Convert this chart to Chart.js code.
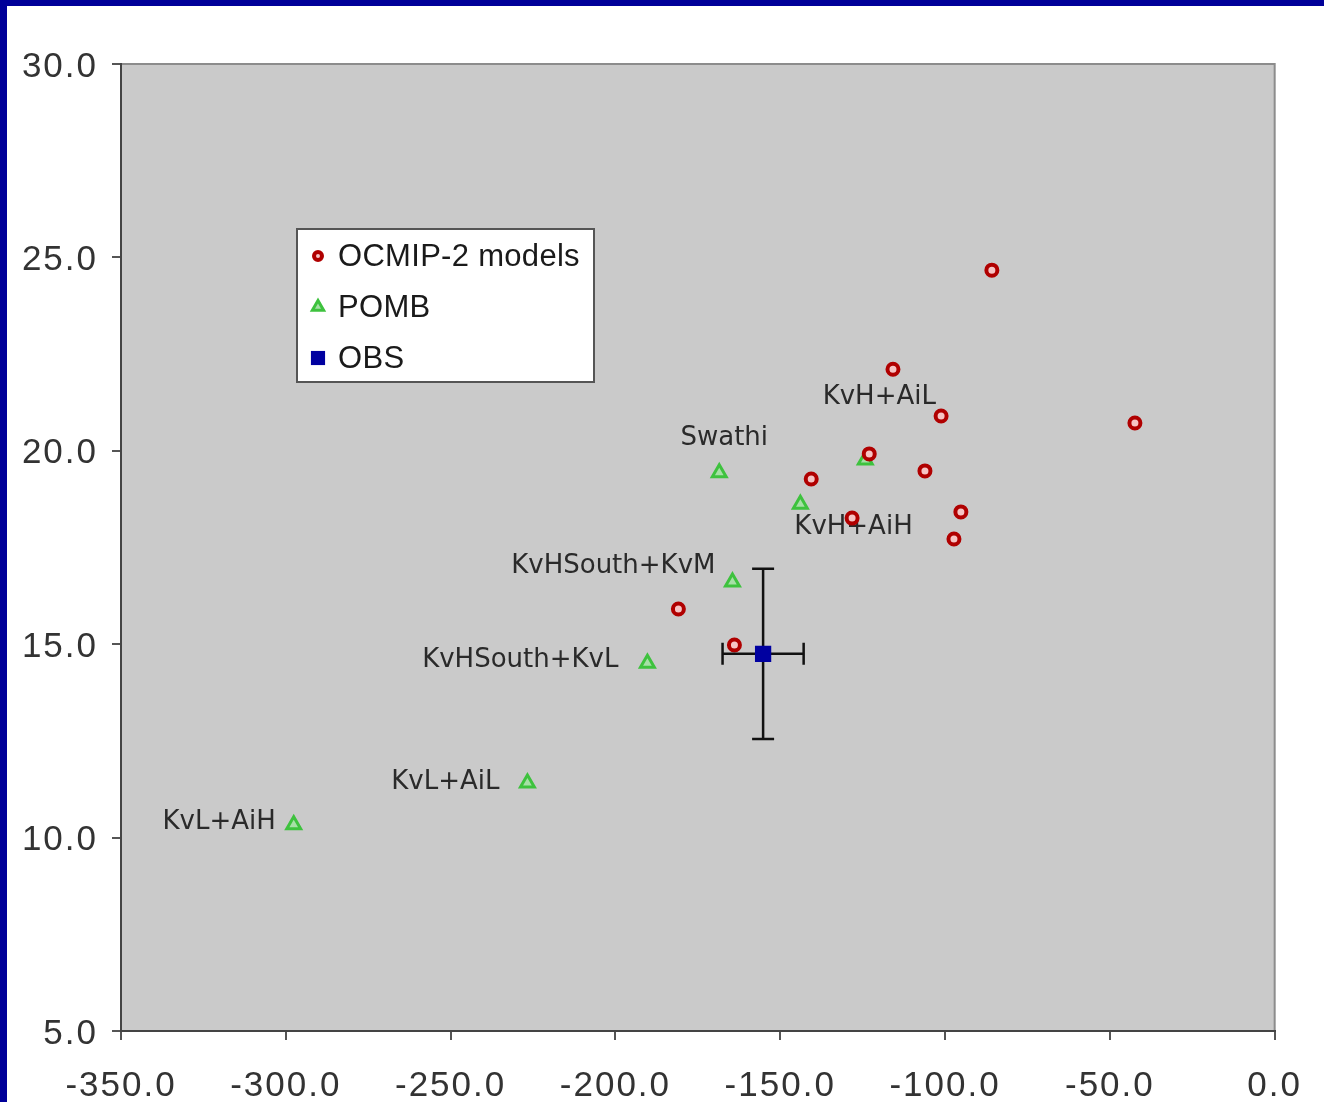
<!DOCTYPE html>
<html><head><meta charset="utf-8">
<script src="https://cdn.jsdelivr.net/npm/chart.js@4.4.1/dist/chart.umd.min.js"></script>
<style>
html,body{margin:0;padding:0;background:#000099;width:1324px;height:1102px;overflow:hidden;}
#frame{position:absolute;left:7px;top:6px;width:1317px;height:1096px;background:#fff;}
canvas{display:block;}
</style></head><body>
<div id="frame"><canvas id="c" width="1317" height="1096"></canvas></div>
<script>
// OCMIP-2 model results
const ocmipX = [-85.8, -115.8, -101.2, -42.4, -123.0, -106.1, -140.6, -95.2, -128.2, -97.3, -180.9, -163.9];
const ocmipY = [24.67, 22.11, 20.90, 20.72, 19.92, 19.48, 19.27, 18.42, 18.26, 17.72, 15.91, 14.98];

// POMB runs and their names
const pombNames = ['Swathi', 'KvH+AiH', 'KvH+AiL', 'KvHSouth+KvM', 'KvHSouth+KvL', 'KvL+AiL', 'KvL+AiH'];
const pombX = [-168.5, -143.9, -124.2, -164.5, -190.3, -226.7, -297.6];
const pombY = [19.43, 18.62, 19.76, 16.61, 14.51, 11.41, 10.33];

// Observational estimate with uncertainties
const obsX = [-155.2];
const obsY = [14.75];
const obsErrX = [12.3];
const obsErrY = [2.2];

// Axis tick settings
const xTicks = {min: -350, max: 0, step: 50};
const yTicks = {min: 5, max: 30, step: 5};

// Where each run name sits relative to its marker (pixels)
const nameOffsets = [
  {dx: 5, dy: -35, align: 'center'},
  {dx: -6, dy: 23, align: 'left'},
  {dx: 14, dy: -63, align: 'center'},
  {dx: -17, dy: -16, align: 'right'},
  {dx: -29, dy: -3, align: 'right'},
  {dx: -28, dy: -1, align: 'right'},
  {dx: -18, dy: -3, align: 'right'}
];

const toPts = (xs, ys) => xs.map((x, i) => ({x: x, y: ys[i]}));

const plotFrame = {
  id: 'plotFrame',
  beforeDraw(chart) {
    const {ctx, chartArea: a} = chart;
    ctx.save();
    ctx.fillStyle = '#cacaca';
    ctx.fillRect(a.left, a.top, a.right - a.left, a.bottom - a.top);
    ctx.strokeStyle = '#8c8c8c';
    ctx.lineWidth = 2;
    ctx.beginPath();
    ctx.moveTo(a.left, a.top);
    ctx.lineTo(a.right, a.top);
    ctx.lineTo(a.right, a.bottom);
    ctx.stroke();
    ctx.restore();
    ctx.letterSpacing = '2px';
  },
  beforeDatasetsDraw(chart) {
    chart.ctx.letterSpacing = '0px';
  }
};

const errorBars = {
  id: 'errorBars',
  beforeDatasetDraw(chart, args) {
    if (chart.data.datasets[args.index].label !== 'OBS') return;
    const {ctx, scales: {x, y}} = chart;
    ctx.save();
    ctx.strokeStyle = '#111';
    ctx.lineWidth = 2.5;
    const cap = 11;
    obsX.forEach((v, i) => {
      const px = x.getPixelForValue(v), py = y.getPixelForValue(obsY[i]);
      const x0 = x.getPixelForValue(v - obsErrX[i]), x1 = x.getPixelForValue(v + obsErrX[i]);
      const y0 = y.getPixelForValue(obsY[i] + obsErrY[i]), y1 = y.getPixelForValue(obsY[i] - obsErrY[i]);
      ctx.beginPath();
      ctx.moveTo(x0, py); ctx.lineTo(x1, py);
      ctx.moveTo(x0, py - cap); ctx.lineTo(x0, py + cap);
      ctx.moveTo(x1, py - cap); ctx.lineTo(x1, py + cap);
      ctx.moveTo(px, y0); ctx.lineTo(px, y1);
      ctx.moveTo(px - cap, y0); ctx.lineTo(px + cap, y0);
      ctx.moveTo(px - cap, y1); ctx.lineTo(px + cap, y1);
      ctx.stroke();
    });
    ctx.restore();
  }
};

const runNames = {
  id: 'runNames',
  afterDatasetDraw(chart, args) {
    if (chart.data.datasets[args.index].label !== 'POMB') return;
    const {ctx, scales: {x, y}} = chart;
    ctx.save();
    ctx.font = '26px "DejaVu Sans", Verdana, sans-serif';
    ctx.fillStyle = '#2a2a2a';
    ctx.textBaseline = 'middle';
    pombNames.forEach((name, i) => {
      const o = nameOffsets[i];
      ctx.textAlign = o.align;
      ctx.fillText(name, x.getPixelForValue(pombX[i]) + o.dx, y.getPixelForValue(pombY[i]) + o.dy);
    });
    ctx.restore();
  }
};

const boxLegend = {
  id: 'boxLegend',
  afterDraw(chart) {
    const {ctx, chartArea: a} = chart;
    const bx = a.left + 176, by = a.top + 165, bw = 297, bh = 153;
    ctx.save();
    ctx.fillStyle = '#fff';
    ctx.fillRect(bx, by, bw, bh);
    ctx.strokeStyle = '#555';
    ctx.lineWidth = 2;
    ctx.strokeRect(bx, by, bw, bh);
    ctx.font = '31px "Liberation Sans", Arial, sans-serif';
    ctx.letterSpacing = '0.3px';
    ctx.textBaseline = 'middle';
    ctx.textAlign = 'left';
    const order = ['OCMIP-2 models', 'POMB', 'OBS'];
    order.forEach((lab, i) => {
      const ds = chart.data.datasets.find(d => d.label === lab);
      const ry = by + 27 + i * 51;
      ctx.fillStyle = ds.backgroundColor;
      ctx.strokeStyle = ds.borderColor;
      ctx.lineWidth = ds.borderWidth;
      Chart.helpers.drawPoint(ctx, {pointStyle: ds.pointStyle, radius: ds.legendRadius, rotation: 0, borderWidth: ds.borderWidth}, bx + 21, ry);
      ctx.fillStyle = '#1a1a1a';
      ctx.fillText(lab, bx + 41, ry + 1);
    });
    ctx.restore();
  }
};

const tickFont = {family: '"Liberation Sans", Arial, sans-serif', size: 35};

new Chart(document.getElementById('c'), {
  type: 'scatter',
  data: {
    datasets: [
      {label: 'OCMIP-2 models', data: toPts(ocmipX, ocmipY), pointStyle: 'circle', pointRadius: 5.5,
       borderColor: '#b00000', backgroundColor: '#f6c4c4', borderWidth: 4, legendRadius: 4, order: 1},
      {label: 'POMB', data: toPts(pombX, pombY), pointStyle: 'triangle', pointRadius: 8,
       borderColor: '#3ec23e', backgroundColor: '#a6e0a6', borderWidth: 3, legendRadius: 6.5, order: 2},
      {label: 'OBS', data: toPts(obsX, obsY), pointStyle: 'rect', pointRadius: 11.5,
       borderColor: '#0000a0', backgroundColor: '#0000a0', borderWidth: 0, legendRadius: 10, order: 0}
    ]
  },
  options: {
    responsive: false,
    animation: false,
    events: [],
    layout: {padding: {top: 58, right: 48, left: 0, bottom: 0}},
    plugins: {legend: {display: false}, tooltip: {enabled: false}},
    scales: {
      x: {
        type: 'linear', min: xTicks.min, max: xTicks.max,
        ticks: {stepSize: xTicks.step, color: '#333', font: tickFont, padding: 25, maxRotation: 0,
                callback: v => v.toFixed(1)},
        grid: {drawOnChartArea: false, drawTicks: true, tickLength: 9, color: '#555', lineWidth: 2},
        border: {display: true, color: '#444', width: 2},
        afterFit: s => { s.height = 71; }
      },
      y: {
        type: 'linear', min: yTicks.min, max: yTicks.max,
        ticks: {stepSize: yTicks.step, color: '#333', font: tickFont, padding: 14, labelOffset: 3,
                callback: v => v.toFixed(1)},
        grid: {drawOnChartArea: false, drawTicks: true, tickLength: 9, color: '#555', lineWidth: 2},
        border: {display: true, color: '#444', width: 2},
        afterFit: s => { s.width = 114; }
      }
    }
  },
  plugins: [plotFrame, errorBars, runNames, boxLegend]
});
</script>
</body></html>
